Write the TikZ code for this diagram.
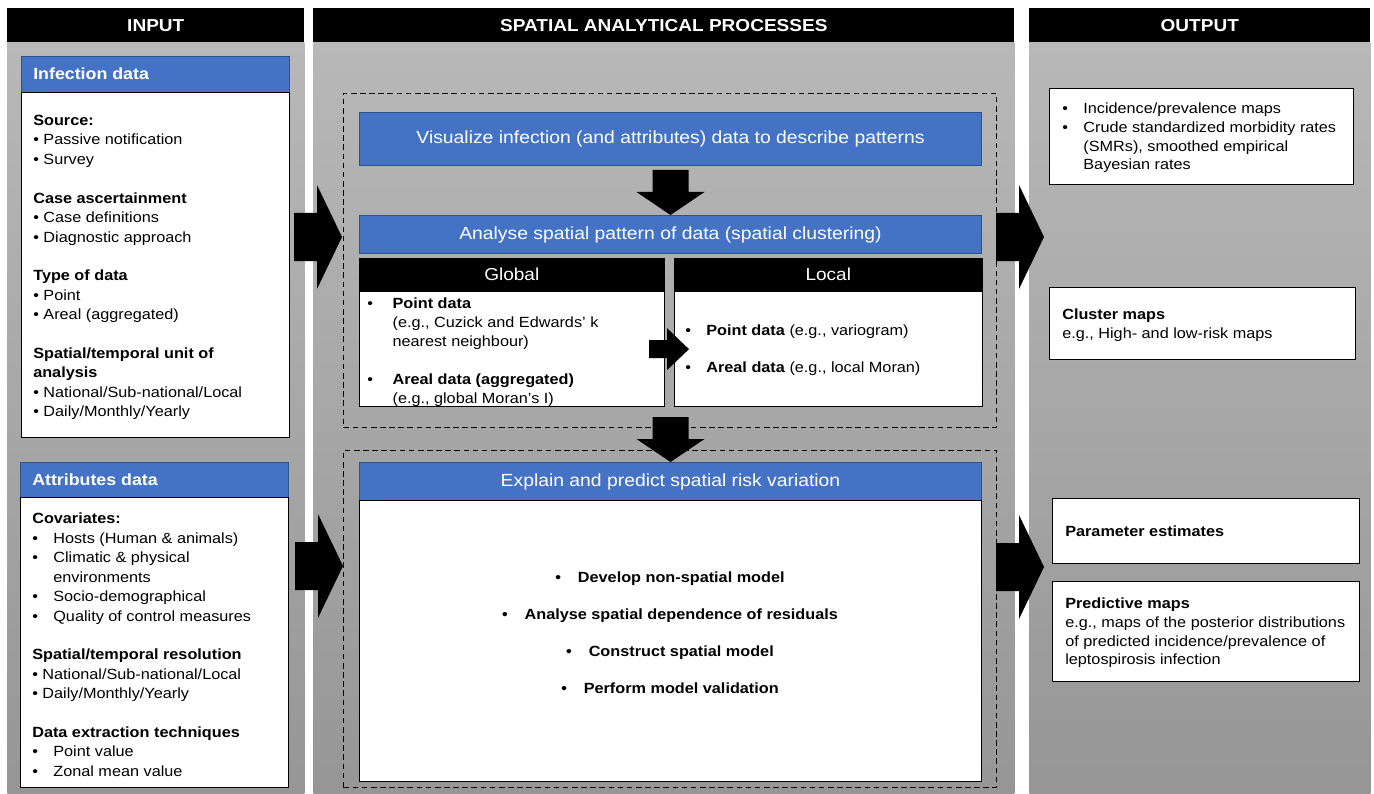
\documentclass[tikz,border=0pt]{standalone}
\usepackage{fontspec}
\setmainfont[FakeStretch=1.1]{Liberation Sans}
\usetikzlibrary{positioning,calc}
\definecolor{procblue}{RGB}{68,114,196}
\definecolor{procedge}{RGB}{47,82,143}
\definecolor{paneltop}{RGB}{184,184,184}
\definecolor{panelbot}{RGB}{150,150,150}
\newcommand{\px}{0.025cm}
\newcommand{\bl}{13.8pt}
\newcommand{\wb}{\makebox[15pt][l]{\textbullet}}
\newcommand{\gb}{\makebox[18pt][l]{\textbullet}}
\newcommand{\rblock}[1]{\fill[shift={(#1)}] (-48,-24) -- (-25,-24) -- (-25,-52) -- (0,0) -- (-25,52) -- (-25,24) -- (-48,24) -- cycle;}
\newcommand{\sblock}[1]{\fill[shift={(#1)}] (-40,-9) -- (-22,-9) -- (-22,-21) -- (0,0) -- (-22,21) -- (-22,9) -- (-40,9) -- cycle;}
\newcommand{\dblock}[1]{\fill[shift={(#1)}] (-18,-45) -- (-18,-23) -- (-34,-23) -- (0,0) -- (34,-23) -- (18,-23) -- (18,-45) -- cycle;}
\tikzset{
  colhead/.style={fill=black,text=white,inner sep=0,anchor=north west,font=\fontsize{12.3}{14}\selectfont\bfseries},
  panel/.style={top color=paneltop,bottom color=panelbot,draw=none,inner sep=0,anchor=north west},
  bluehead/.style={fill=procblue,draw=procedge,line width=0.7pt,inner sep=0,anchor=north west},
  whitebox/.style={fill=white,draw=black,line width=0.9pt,inner sep=0,anchor=north west},
  darkhead/.style={fill=black,draw=black,inner sep=0,anchor=north west,text=white,font=\fontsize{12.3}{14}\selectfont},
  dashbox/.style={draw=black,line width=0.7pt,dash pattern=on 4pt off 2.5pt,inner sep=0,anchor=north west},
  bodytxt/.style={inner sep=0,anchor=north west,align=left,font=\fontsize{10.5}{13.8}\selectfont},
  titletxt/.style={text=white,inner sep=0,font=\fontsize{11.5}{14}\selectfont\bfseries},
  proctxt/.style={text=white,font=\fontsize{12.5}{15}\selectfont}
}

\begin{document}
\begin{tikzpicture}[x=0.025cm,y=-0.025cm]
\useasboundingbox[fill=white] (0,0) rectangle (1374,794);

% columns
\node[panel,minimum width=297*\px,minimum height=752*\px] (pin) at (7,42) {};
\node[panel,minimum width=701*\px,minimum height=752*\px] (psp) at (313,42) {};
\node[panel,minimum width=341*\px,minimum height=752*\px] (pout) at (1029,42) {};
\node[colhead,minimum width=297*\px,minimum height=34*\px] (hin) at (7,8) {INPUT};
\node[colhead,minimum width=701*\px,minimum height=34*\px] (hsp) at (313,8) {SPATIAL ANALYTICAL PROCESSES};
\node[colhead,minimum width=341*\px,minimum height=34*\px] (hout) at (1029,8) {OUTPUT};

% input
\node[bluehead,minimum width=268*\px,minimum height=36*\px] (infhead) at (21,56) {};
\node[titletxt,anchor=west] (inftitle) at (33,74) {Infection data};
\node[whitebox,minimum width=268*\px,minimum height=345*\px] (infbox) at (21,92) {};
\node[bodytxt] (inftxt) at (33,115) {\textbf{Source:}\\
  \textbullet\ Passive notification\\
  \textbullet\ Survey\\[\bl]
  \textbf{Case ascertainment}\\
  \textbullet\ Case definitions\\
  \textbullet\ Diagnostic approach\\[\bl]
  \textbf{Type of data}\\
  \textbullet\ Point\\
  \textbullet\ Areal (aggregated)\\[\bl]
  \textbf{Spatial/temporal unit of}\\
  \textbf{analysis}\\
  \textbullet\ National/Sub-national/Local\\
  \textbullet\ Daily/Monthly/Yearly};

\node[bluehead,minimum width=268*\px,minimum height=35*\px] (atthead) at (20,462) {};
\node[titletxt,anchor=west] (atttitle) at (32,480) {Attributes data};
\node[whitebox,minimum width=268*\px,minimum height=290*\px] (attbox) at (20,497) {};
\node[bodytxt] (atttxt) at (32,513) {\textbf{Covariates:}\\
  \wb Hosts (Human \& animals)\\
  \wb Climatic \& physical\\
  \hspace*{15pt}environments\\
  \wb Socio-demographical\\
  \wb Quality of control measures\\[\bl]
  \textbf{Spatial/temporal resolution}\\
  \textbullet\ National/Sub-national/Local\\
  \textbullet\ Daily/Monthly/Yearly\\[\bl]
  \textbf{Data extraction techniques}\\
  \wb Point value\\
  \wb Zonal mean value};

% spatial analytical processes
\node[dashbox,minimum width=653*\px,minimum height=334*\px] (dash1) at (343,93) {};
\node[bluehead,proctxt,minimum width=622*\px,minimum height=53*\px] (vis) at (359,112) {Visualize infection (and attributes) data to describe patterns};
\node[bluehead,proctxt,minimum width=622*\px,minimum height=38*\px] (ana) at (359,215) {Analyse spatial pattern of data (spatial clustering)};
\node[darkhead,minimum width=305*\px,minimum height=33*\px] (glohead) at (359,258) {Global};
\node[whitebox,minimum width=305*\px,minimum height=115*\px] (globox) at (359,291) {};
\node[darkhead,minimum width=308*\px,minimum height=33*\px] (lochead) at (674,258) {Local};
\node[whitebox,minimum width=308*\px,minimum height=115*\px] (locbox) at (674,291) {};
\node[bodytxt,font=\fontsize{10.5}{13.5}\selectfont] (glotxt) at (367,298) {\gb\textbf{Point data}\\
  \hspace*{18pt}(e.g., Cuzick and Edwards' k\\
  \hspace*{18pt}nearest neighbour)\\[13.5pt]
  \gb\textbf{Areal data (aggregated)}\\
  \hspace*{18pt}(e.g., global Moran's I)};
\node[bodytxt] (loctxt) at (685,325) {\wb\textbf{Point data} (e.g., variogram)\\[12.5pt]
  \wb\textbf{Areal data} (e.g., local Moran)};

\node[dashbox,minimum width=653*\px,minimum height=337*\px] (dash2) at (343,450) {};
\node[bluehead,proctxt,minimum width=622*\px,minimum height=38*\px] (exp) at (359,462) {Explain and predict spatial risk variation};
\node[whitebox,minimum width=622*\px,minimum height=281*\px] (expbox) at (359,500) {};
\node[inner sep=0,anchor=north,align=center,font=\fontsize{10.5}{13.8}\selectfont\bfseries] (exptxt) at (670,572) {%
  \textbullet\hspace{12pt}Develop non-spatial model\\[12.5pt]
  \textbullet\hspace{12pt}Analyse spatial dependence of residuals\\[12.5pt]
  \textbullet\hspace{12pt}Construct spatial model\\[12.5pt]
  \textbullet\hspace{12pt}Perform model validation};

% output
\node[whitebox,minimum width=304*\px,minimum height=96*\px] (out1) at (1049,88) {};
\node[bodytxt,font=\fontsize{10.5}{13.2}\selectfont] (out1txt) at (1062,103) {\wb Incidence/prevalence maps\\
  \wb Crude standardized morbidity rates\\
  \hspace*{15pt}(SMRs), smoothed empirical\\
  \hspace*{15pt}Bayesian rates};
\node[whitebox,minimum width=306*\px,minimum height=72*\px] (out2) at (1049,287) {};
\node[bodytxt,font=\fontsize{10.5}{13.2}\selectfont] (out2txt) at (1062,309) {\textbf{Cluster maps}\\
  e.g., High- and low-risk maps};
\node[whitebox,minimum width=307*\px,minimum height=65*\px] (out3) at (1052,498) {};
\node[bodytxt,anchor=west] (out3txt) at (1065,531) {\textbf{Parameter estimates}};
\node[whitebox,minimum width=307*\px,minimum height=100*\px] (out4) at (1052,581) {};
\node[bodytxt,font=\fontsize{10.5}{13.2}\selectfont] (out4txt) at (1065,598) {\textbf{Predictive maps}\\
  e.g., maps of the posterior distributions\\
  of predicted incidence/prevalence of\\
  leptospirosis infection};

% block arrows
\rblock{342,237}
\rblock{343,566}
\rblock{1044,237}
\rblock{1044,567}
\dblock{ana.north}
\dblock{exp.north}
\sblock{$(locbox.west)+(15,0)$}
\end{tikzpicture}
\end{document}
